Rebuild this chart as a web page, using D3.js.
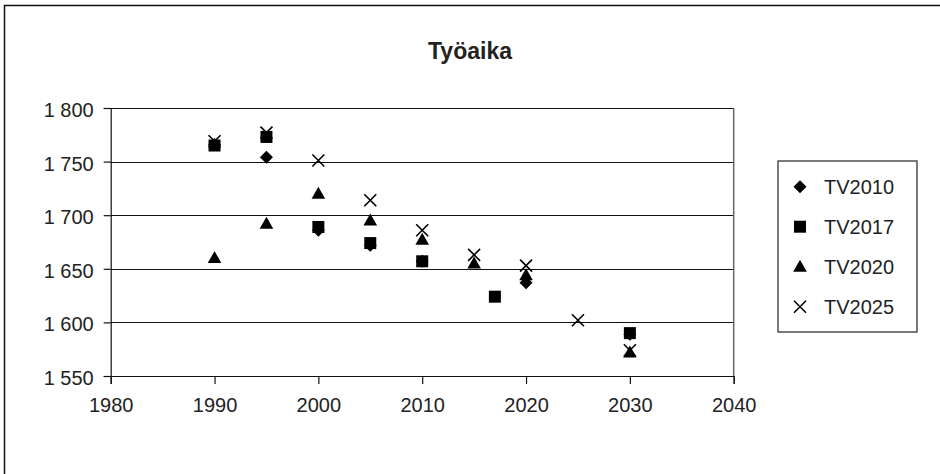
<!DOCTYPE html>
<html>
<head>
<meta charset="utf-8">
<script src="https://cdn.jsdelivr.net/npm/d3@7"></script>
<style>
  html, body { margin: 0; padding: 0; background: #fff; }
  svg { display: block; font-family: Arial, "Liberation Sans", sans-serif; }
</style>
</head>
<body>
<svg id="chart" width="940" height="474"></svg>
<script>
const title = "Työaika";
const seriesNames = ["TV2010", "TV2017", "TV2020", "TV2025"];
const seriesShapes = ["diamond", "square", "triangle", "cross"];

const tv2010Years  = [1990, 1995, 2000, 2005, 2010, 2020, 2030];
const tv2010Values = [1766, 1754, 1686, 1672, 1657, 1637, 1589];

const tv2017Years  = [1990, 1995, 2000, 2005, 2010, 2017, 2030];
const tv2017Values = [1765, 1773, 1689, 1674, 1657, 1624, 1590];

const tv2020Years  = [1990, 1995, 2000, 2005, 2010, 2015, 2020, 2030];
const tv2020Values = [1660, 1692, 1720, 1695, 1677, 1655, 1644, 1572];

const tv2025Years  = [1990, 1995, 2000, 2005, 2010, 2015, 2020, 2025, 2030];
const tv2025Values = [1769, 1777, 1751, 1714, 1686, 1663, 1653, 1602, 1574];

const xTicks = [1980, 1990, 2000, 2010, 2020, 2030, 2040];
const yTicks = [1550, 1600, 1650, 1700, 1750, 1800];

const seriesYears  = [tv2010Years, tv2017Years, tv2020Years, tv2025Years];
const seriesValues = [tv2010Values, tv2017Values, tv2020Values, tv2025Values];

const svg = d3.select("#chart");
const fontSize = 20;
const textColor = "#222";

// outer chart border (extends beyond the picture)
svg.append("rect")
  .attr("x", 4.5).attr("y", 5.5)
  .attr("width", 1000).attr("height", 1000)
  .attr("fill", "none").attr("stroke", "#111").attr("stroke-width", 1.5);

const x = d3.scaleLinear().domain([1980, 2040]).range([110.7, 733.7]);
const y = d3.scaleLinear().domain([1550, 1800]).range([376, 108]);

const fiLocale = d3.formatLocale({ decimal: ",", thousands: "\u00a0", grouping: [3], currency: ["", " €"] });
const yFmt = v => fiLocale.format(",d")(v).replace(/\u00a0/g, " ");

// title
svg.append("text")
  .attr("x", 470).attr("y", 58.5)
  .attr("text-anchor", "middle")
  .attr("font-weight", "bold")
  .attr("font-size", 23)
  .attr("fill", textColor)
  .text(title);

// gridlines
svg.append("g")
  .selectAll("line")
  .data(yTicks.filter(t => t !== 1550))
  .join("line")
  .attr("x1", x(1980)).attr("x2", x(2040))
  .attr("y1", d => Math.round(y(d)) + 0.5).attr("y2", d => Math.round(y(d)) + 0.5)
  .attr("stroke", "#111").attr("stroke-width", 1);

// plot area right border
svg.append("line")
  .attr("x1", x(2040)).attr("x2", x(2040))
  .attr("y1", y(1800)).attr("y2", y(1550))
  .attr("stroke", "#666").attr("stroke-width", 1.5);

// y axis
const yAxis = svg.append("g")
  .attr("transform", `translate(${x(1980)},0)`)
  .call(d3.axisLeft(y).tickValues(yTicks).tickSize(7).tickPadding(10).tickFormat(yFmt));
yAxis.select(".domain").attr("stroke", "#111").attr("stroke-width", 1.2);
yAxis.selectAll(".tick line").attr("stroke", "#111").attr("stroke-width", 1.2);
yAxis.selectAll(".tick text")
  .attr("font-size", fontSize).attr("fill", textColor)
  .attr("font-family", "Arial, 'Liberation Sans', sans-serif")
  .attr("dy", "0.42em");

// x axis
const xAxis = svg.append("g")
  .attr("transform", `translate(0,${y(1550)})`)
  .call(d3.axisBottom(x).tickValues(xTicks).tickSize(8).tickPadding(14).tickFormat(d3.format("d")));
xAxis.select(".domain").attr("stroke", "#111").attr("stroke-width", 1.2);
xAxis.selectAll(".tick line").attr("stroke", "#111").attr("stroke-width", 1.2);
xAxis.selectAll(".tick text")
  .attr("font-size", fontSize).attr("fill", textColor)
  .attr("font-family", "Arial, 'Liberation Sans', sans-serif");

// marker paths
const shapePath = {
  diamond: "M0,-6.5L6.5,0L0,6.5L-6.5,0Z",
  square: "M-6,-6H6V6H-6Z",
  triangle: "M0,-7L6.8,5L-6.8,5Z",
  cross: "M-6,-6L6,6M6,-6L-6,6"
};
function drawMarker(g, shape) {
  const p = g.append("path").attr("d", shapePath[shape]);
  if (shape === "cross") {
    p.attr("fill", "none").attr("stroke", "#000").attr("stroke-width", 1.6);
  } else {
    p.attr("fill", "#000");
  }
}

// points
seriesNames.forEach((name, i) => {
  const data = seriesYears[i].map((yr, j) => ({ yr, v: seriesValues[i][j] }));
  const g = svg.append("g").attr("class", "series-" + name);
  g.selectAll("g.pt")
    .data(data)
    .join("g")
    .attr("class", "pt")
    .attr("transform", d => `translate(${x(d.yr)},${y(d.v)})`)
    .each(function () { drawMarker(d3.select(this), seriesShapes[i]); });
});

// legend
const legend = svg.append("g");
legend.append("rect")
  .attr("x", 778).attr("y", 161)
  .attr("width", 139).attr("height", 171)
  .attr("fill", "#fff").attr("stroke", "#333").attr("stroke-width", 1.3);
const legendY = d3.scalePoint().domain(seriesNames).range([186.7, 306.7]);
seriesNames.forEach((name, i) => {
  const item = legend.append("g").attr("transform", `translate(800,${legendY(name)})`);
  drawMarker(item, seriesShapes[i]);
  legend.append("text")
    .attr("x", 824).attr("y", legendY(name))
    .attr("dy", "0.36em")
    .attr("font-size", fontSize).attr("fill", textColor)
    .text(name);
});
</script>
</body>
</html>
